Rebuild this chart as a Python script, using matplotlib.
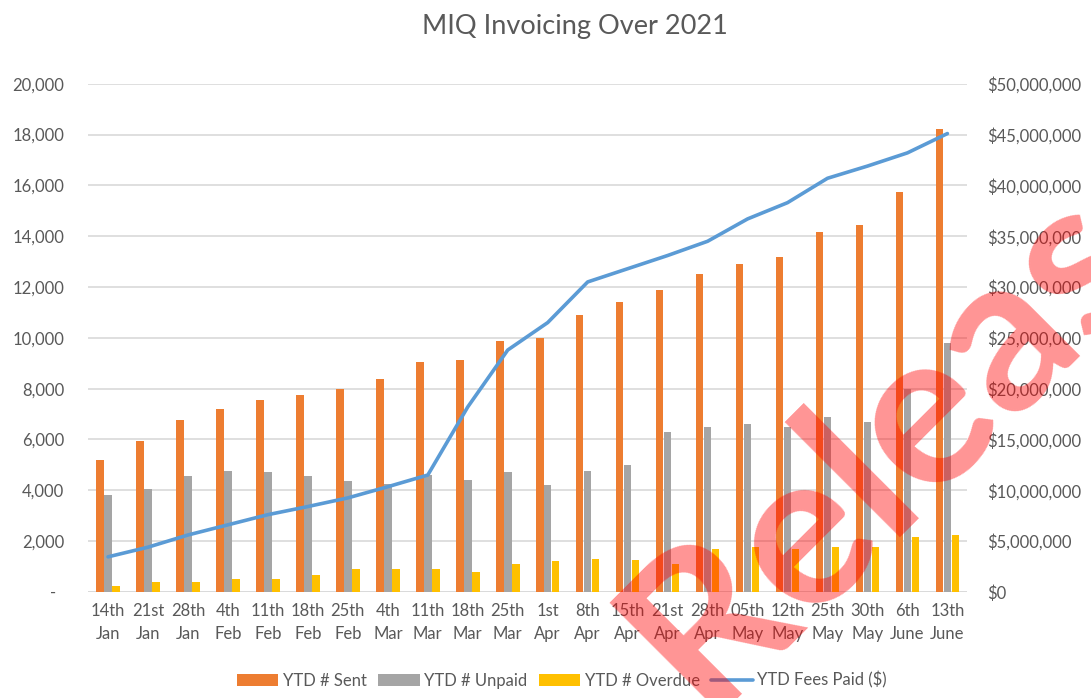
import numpy as np
import matplotlib.pyplot as plt
from matplotlib.ticker import FuncFormatter, MultipleLocator

plt.rcParams['font.family'] = ['Lato', 'DejaVu Sans']

dates = ['14th\nJan', '21st\nJan', '28th\nJan', '4th\nFeb', '11th\nFeb', '18th\nFeb', '25th\nFeb',
         '4th\nMar', '11th\nMar', '18th\nMar', '25th\nMar', '1st\nApr', '8th\nApr', '15th\nApr',
         '21st\nApr', '28th\nApr', '05th\nMay', '12th\nMay', '25th\nMay', '30th\nMay', '6th\nJune',
         '13th\nJune']
sent = [5200, 5950, 6750, 7200, 7550, 7750, 8000, 8380, 9050, 9130, 9880, 10000,
        10900, 11420, 11900, 12520, 12920, 13200, 14170, 14450, 15750, 18230]
unpaid = [3800, 4050, 4550, 4750, 4700, 4550, 4350, 4250, 4600, 4400, 4700, 4200,
          4750, 5000, 6300, 6500, 6600, 6500, 6900, 6700, 8000, 9800]
overdue = [250, 380, 380, 500, 500, 680, 900, 900, 900, 800, 1100, 1200,
           1300, 1250, 1100, 1700, 1750, 1700, 1750, 1750, 2150, 2250]
fees = [3.45e6, 4.4e6, 5.6e6, 6.6e6, 7.6e6, 8.4e6, 9.25e6, 10.35e6, 11.5e6, 18.2e6, 23.8e6,
        26.5e6, 30.5e6, 31.8e6, 33.1e6, 34.5e6, 36.7e6, 38.3e6, 40.7e6, 41.9e6, 43.2e6, 45.1e6]

txt = '#595959'
x = np.arange(len(dates))
w = 0.19

fig = plt.figure(figsize=(10.91, 6.98), dpi=100)
ax = fig.add_axes([0.0807, 0.152, 0.806, 0.728])
ax2 = ax.twinx()

ax.bar(x - 0.2, sent, w, color='#ED7D31', label='YTD # Sent', zorder=2)
ax.bar(x, unpaid, w, color='#A5A5A5', label='YTD # Unpaid', zorder=2)
ax.bar(x + 0.2, overdue, w, color='#FFC000', label='YTD # Overdue', zorder=2)
ax2.plot(x, fees, color='#5B9BD5', lw=2.6, label='YTD Fees Paid ($)', solid_capstyle='round')

ax.set_xlim(-0.5, len(dates) - 0.5)
ax.set_ylim(0, 20000)
ax2.set_ylim(0, 50e6)
ax.yaxis.set_major_locator(MultipleLocator(2000))
ax2.yaxis.set_major_locator(MultipleLocator(5e6))
ax.yaxis.set_major_formatter(FuncFormatter(lambda v, p: '-  ' if v == 0 else f'{v:,.0f}'))
ax2.yaxis.set_major_formatter(FuncFormatter(lambda v, p: f'${v:,.0f}'))
ax.grid(axis='y', color='#D9D9D9', lw=1.2, zorder=0)
ax.set_axisbelow(True)

ax.set_xticks(x)
ax.set_xticklabels(dates, linespacing=1.55)
for a in (ax, ax2):
    for s in a.spines.values():
        s.set_visible(False)
    a.tick_params(length=0, labelsize=12, labelcolor=txt)
ax.tick_params(axis='y', pad=17)
ax.tick_params(axis='x', pad=8)
ax2.tick_params(axis='y', pad=14)
ax.axhline(0, color='#D9D9D9', lw=1.2, zorder=1)

fig.text(0.527, 0.962, 'MIQ Invoicing Over 2021', ha='center', va='center', fontsize=19.5, color=txt)

h1, l1 = ax.get_legend_handles_labels()
h2, l2 = ax2.get_legend_handles_labels()
fig.legend(h1 + h2, l1 + l2, loc='lower center', bbox_to_anchor=(0.515, -0.008), ncol=4,
           frameon=False, fontsize=12, labelcolor=txt, handlelength=2.5, handleheight=0.7,
           columnspacing=0.7, handletextpad=0.25)

# watermark
fig.text(0.645, -0.024, 'Release', rotation=45, rotation_mode='anchor', ha='left', va='baseline',
         fontsize=157, fontweight='bold', color='red', alpha=0.42, family='Lato', zorder=10)

fig.savefig('out.png', dpi=100)
